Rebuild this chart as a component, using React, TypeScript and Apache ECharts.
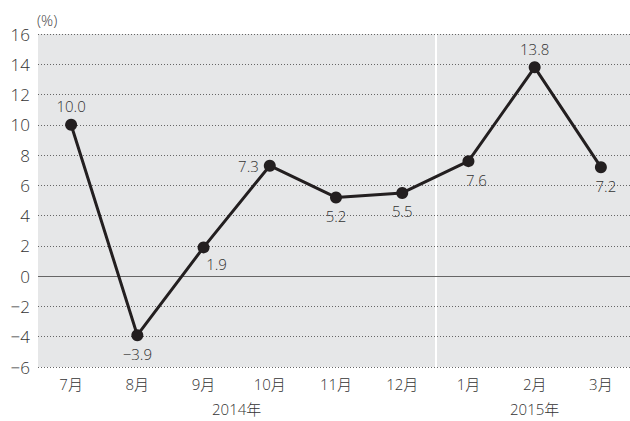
import React, { useEffect, useRef } from "react";
import * as echarts from "echarts";

const months = ["7月", "8月", "9月", "10月", "11月", "12月", "1月", "2月", "3月"];
const values = [10.0, -3.9, 1.9, 7.3, 5.2, 5.5, 7.6, 13.8, 7.2];
const labelPositions = ["top", "bottom", "bottom", "left", "bottom", "bottom", "bottom", "top", "bottom"];
const labelOffsets = [[0, 0], [0, 0], [13, -2], [0, 0], [0, 0], [0, 0], [8, 0], [0, 0], [5, 0]];
const yearTicks = ["", "", "", "", "", "", "2014年", "", "", "", "", "", "", "", "", "2015年", "", "", ""];

const FONT = "'Open Sans', 'Noto Sans CJK JP', sans-serif";
const fmtNum = (v: number) => (v < 0 ? "\u2212" + Math.abs(v) : String(v));
const fmtDec = (v: number) => (v < 0 ? "\u2212" + Math.abs(v).toFixed(1) : v.toFixed(1));

export default function App() {
  const ref = useRef<HTMLDivElement>(null);
  useEffect(() => {
    const chart = echarts.init(ref.current!, null, { renderer: "svg" });
    chart.setOption({
      animation: false,
      textStyle: { fontFamily: FONT, fontWeight: 300 },
      grid: {
        left: 38, width: 596, top: 34, bottom: 54, show: true, backgroundColor: "#e6e7e8", borderWidth: 0,
        containLabel: false, outerBoundsMode: "none",
      },
      graphic: [
        { type: "text", left: 37, top: 12, style: { text: "(%)", font: "300 15px 'Open Sans', sans-serif", fill: "#444" } },
      ],
      xAxis: [
        {
          type: "category",
          data: months,
          boundaryGap: true,
          axisLine: { show: false },
          axisTick: { show: false },
          axisLabel: { color: "#333", fontSize: 15, margin: 9, fontFamily: FONT, fontWeight: 300 },
          splitLine: { show: false },
        },
        {
          type: "category",
          position: "bottom",
          offset: 24,
          data: yearTicks,
          boundaryGap: false,
          axisLine: { show: false },
          axisTick: { show: false },
          axisLabel: { color: "#333", fontSize: 15, interval: 0, margin: 10, fontFamily: FONT, fontWeight: 300 },
          splitLine: {
            show: true,
            interval: (i: number) => i === 12,
            lineStyle: { color: "#ffffff", width: 2, type: "solid" },
          },
        },
      ],
      yAxis: {
        type: "value",
        min: -6,
        max: 16,
        interval: 2,
        axisLine: { show: false },
        axisTick: { show: false },
        axisLabel: { color: "#333", fontSize: 17, margin: 8, formatter: fmtNum, fontFamily: FONT, fontWeight: 300 },
        splitLine: { show: true, lineStyle: { color: "#666", type: [1, 2], width: 1 } },
      },
      series: [
        {
          type: "line",
          xAxisIndex: 0,
          data: values.map((v, i) => ({
            value: v,
            label: {
              show: true,
              position: labelPositions[i],
              offset: labelOffsets[i],
              distance: 5,
              formatter: () => fmtDec(v),
              color: "#333",
              fontSize: 15,
              fontFamily: FONT,
              fontWeight: 300,
            },
          })),
          symbol: "circle",
          symbolSize: 12,
          itemStyle: { color: "#231f20" },
          lineStyle: { color: "#231f20", width: 3 },
          z: 5,
          markLine: {
            silent: true,
            symbol: "none",
            label: { show: false },
            lineStyle: { color: "#666", type: "solid", width: 1.2 },
            data: [{ yAxis: 0 }],
          },
        },
      ],
    });
    return () => chart.dispose();
  }, []);
  return <div ref={ref} style={{ width: 630, height: 421, position: "absolute", left: 0, top: 0 }} />;
}
